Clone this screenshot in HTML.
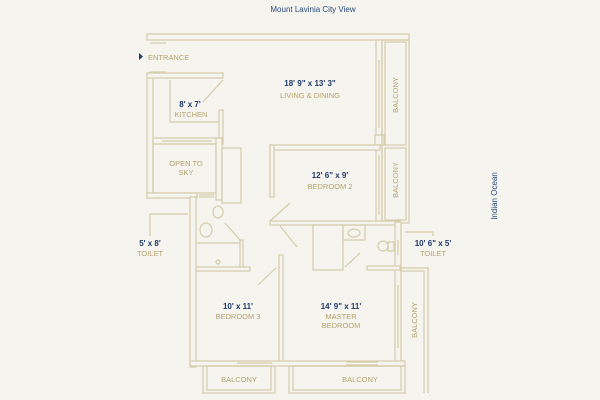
<!DOCTYPE html>
<html><head><meta charset="utf-8"><style>
html,body{margin:0;padding:0;background:#f5f4ef;}
svg{display:block}
text{font-family:"Liberation Sans",sans-serif;}
.g{fill:#b5a46e;font-size:7.5px;}
.b{fill:#1f3a6b;font-size:8px;font-weight:bold;}
.w{fill:#f5f4ef;stroke:#d6ccaa;stroke-width:1.2;}
.l{stroke:#d6ccaa;stroke-width:1.2;fill:none;}
</style></head><body>
<svg width="600" height="400" viewBox="0 0 600 400">
<rect width="600" height="400" fill="#f5f4ef"/>
<text x="313" y="12" text-anchor="middle" style="fill:#2a4a7a;font-size:8px">Mount Lavinia City View</text>
<!-- top wall -->
<rect class="w" x="147" y="34" width="262" height="6"/>
<line class="l" x1="150" y1="43" x2="166" y2="43"/>
<line class="l" x1="150" y1="72" x2="166" y2="72"/>
<!-- left outer wall -->
<rect class="w" x="147" y="73" width="6" height="124"/>
<rect class="w" x="147" y="73" width="76" height="5"/>
<!-- kitchen -->
<polyline class="l" points="170,80 170,122 220,122"/>
<rect class="w" x="219" y="110" width="4" height="28"/>
<line class="l" x1="223" y1="80" x2="203" y2="102"/>
<rect class="w" x="153" y="138" width="70" height="6"/>
<line class="l" x1="162" y1="141" x2="212" y2="141"/>
<!-- open to sky -->
<rect class="l" x="153" y="144" width="63" height="49"/>
<rect class="w" x="216" y="138" width="6" height="62"/>
<rect class="l" x="222" y="148" width="19" height="55"/>
<rect class="w" x="147" y="193" width="50" height="5"/>
<line class="l" x1="199" y1="195" x2="214" y2="195"/>
<line class="l" x1="199" y1="197" x2="214" y2="197"/>
<!-- living right wall + balconies -->
<rect class="w" x="376" y="40" width="6" height="182"/>
<rect class="w" x="375" y="135" width="9" height="10"/>
<line class="l" x1="379" y1="60" x2="379" y2="128"/>
<line class="l" x1="379" y1="155" x2="379" y2="215"/>
<rect class="l" x="382" y="40" width="27" height="183"/>
<rect class="l" x="385" y="42" width="21" height="103"/>
<rect class="l" x="385" y="148" width="21" height="72"/>
<!-- bedroom 2 -->
<rect class="w" x="270" y="145" width="110" height="5"/>
<rect class="w" x="270" y="145" width="4" height="52"/>
<line class="l" x1="270" y1="221" x2="290" y2="203"/>
<rect class="w" x="270" y="221" width="130" height="4"/>
<line class="l" x1="280" y1="226" x2="297" y2="247"/>
<!-- master toilet -->
<rect class="l" x="313" y="225" width="30" height="45"/>
<rect class="l" x="343" y="225" width="22" height="15"/>
<ellipse class="l" cx="354" cy="233" rx="6" ry="4"/>
<ellipse class="l" cx="383" cy="246" rx="5" ry="5"/>
<rect class="l" x="388" y="242" width="6" height="9"/>
<rect class="w" x="395" y="222" width="6" height="140"/>
<line class="l" x1="398" y1="240" x2="398" y2="255"/>
<line class="l" x1="345" y1="267" x2="360" y2="253"/>
<rect class="w" x="367" y="266" width="33" height="4"/>
<!-- left toilet -->
<rect class="w" x="190" y="197" width="6" height="170"/>
<ellipse class="l" cx="218" cy="212" rx="5" ry="6"/>
<ellipse class="l" cx="206" cy="230" rx="6" ry="7"/>
<line class="l" x1="196" y1="243" x2="240" y2="243"/>
<line class="l" x1="225" y1="223" x2="240" y2="240"/>
<rect class="w" x="240" y="240" width="3" height="28"/>
<circle class="l" cx="218" cy="262" r="2"/>
<rect class="w" x="196" y="267" width="54" height="4"/>
<!-- bedroom3/master -->
<line class="l" x1="258" y1="285" x2="276" y2="268"/>
<rect class="w" x="279" y="255" width="4" height="108"/>
<rect class="w" x="190" y="361" width="215" height="5"/>
<line class="l" x1="237" y1="363" x2="272" y2="363"/>
<line class="l" x1="346" y1="362" x2="378" y2="362"/>
<line class="l" x1="346" y1="365" x2="378" y2="365"/>
<line class="l" x1="398" y1="285" x2="398" y2="348"/>
<!-- balconies -->
<rect class="l" x="203" y="366" width="72" height="27"/>
<rect class="l" x="207" y="366" width="64" height="24"/>
<rect class="l" x="289" y="366" width="116" height="27"/>
<rect class="l" x="293" y="366" width="108" height="24"/>
<polyline class="l" points="401,268 428,268 428,393"/>
<polyline class="l" points="401,271 424,271 424,393"/>
<!-- leaders -->
<polyline class="l" points="150,236 150,214 188,214"/>
<polyline class="l" points="433,236 433,232 405,232"/>
<!-- labels -->
<polygon points="139,53 143,56.5 139,60" fill="#1f3a6b"/>
<text class="g" x="148" y="60">ENTRANCE</text>
<text class="b" x="310" y="86" text-anchor="middle">18' 9" x 13' 3"</text>
<text class="g" x="310" y="98" text-anchor="middle">LIVING &amp; DINING</text>
<text class="b" x="190" y="107" text-anchor="middle">8' x 7'</text>
<text class="g" x="191" y="117" text-anchor="middle">KITCHEN</text>
<text class="g" x="186" y="166" text-anchor="middle">OPEN TO</text>
<text class="g" x="186" y="175" text-anchor="middle">SKY</text>
<text class="b" x="330" y="178" text-anchor="middle">12' 6" x 9'</text>
<text class="g" x="330" y="189" text-anchor="middle">BEDROOM 2</text>
<text class="g" transform="translate(398,95) rotate(-90)" text-anchor="middle">BALCONY</text>
<text class="g" transform="translate(398,180) rotate(-90)" text-anchor="middle">BALCONY</text>
<text class="b" x="150" y="246" text-anchor="middle">5' x 8'</text>
<text class="g" x="150" y="256" text-anchor="middle">TOILET</text>
<text class="b" x="433" y="246" text-anchor="middle">10' 6" x 5'</text>
<text class="g" x="433" y="256" text-anchor="middle">TOILET</text>
<text class="b" x="238" y="309" text-anchor="middle">10' x 11'</text>
<text class="g" x="238" y="319" text-anchor="middle">BEDROOM 3</text>
<text class="b" x="341" y="309" text-anchor="middle">14' 9" x 11'</text>
<text class="g" x="341" y="319" text-anchor="middle">MASTER</text>
<text class="g" x="341" y="328" text-anchor="middle">BEDROOM</text>
<text class="g" transform="translate(417,320) rotate(-90)" text-anchor="middle">BALCONY</text>
<text class="g" x="239" y="382" text-anchor="middle">BALCONY</text>
<text class="g" x="360" y="382" text-anchor="middle">BALCONY</text>
<text transform="translate(497,196) rotate(-90)" text-anchor="middle" style="fill:#2a4a7a;font-size:8px">Indian Ocean</text>
</svg>
</body></html>
